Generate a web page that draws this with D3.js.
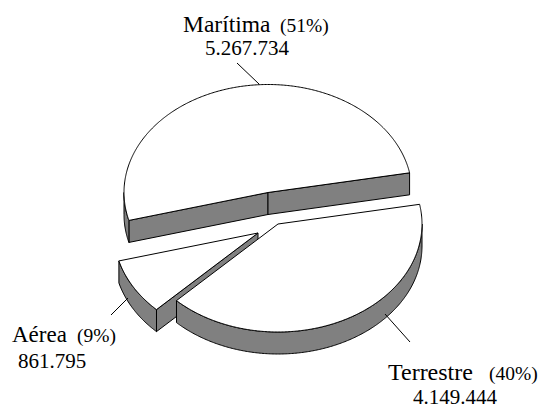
<!DOCTYPE html>
<html>
<head>
<meta charset="utf-8">
<script src="https://cdn.jsdelivr.net/npm/d3@7"></script>
<style>
html,body{margin:0;padding:0;background:#fff;overflow:hidden}
svg{display:block}
text{font-family:"Liberation Serif",serif;fill:#000}
</style>
</head>
<body>
<svg id="c" width="539" height="409"></svg>
<script>
const categories = ["Terrestre", "Aérea", "Marítima"];
const values = [4149444, 861795, 5267734];
const percents = ["(40%)", "(9%)", "(51%)"];
const valueLabels = ["4.149.444", "861.795", "5.267.734"];

// layout
const W = 539, H = 409, RX = 144, RY = 108, DEPTH = 22;
const centers = {"Marítima":[268,192.5], "Terrestre":[278,224], "Aérea":[258,233]};
const labelPos = {
  "Marítima": {name:[183,32,23.5], pct:[280,32], val:[205,55]},
  "Aérea":    {name:[12,342,23], pct:[77,342], val:[18,368]},
  "Terrestre":{name:[388,380,24], pct:[489,380], val:[413,404.4]}
};
const leaders = {
  "Marítima":[[237,63],[259,84]],
  "Aérea":[[111,315],[128,298]],
  "Terrestre":[[385,314],[410,342]]
};
const GRAY = "#808080";

const svg = d3.select("#c");
const sx = d3.scaleLinear().domain([-1,1]).range([-RX,RX]);
const sy = d3.scaleLinear().domain([-1,1]).range([-RY,RY]);
const start = 79.5*Math.PI/180;
const arcs = d3.pie().sort(null).startAngle(start).endAngle(start+2*Math.PI)(values);
const line = d3.line();

function pt(name,a,d){
  const c = centers[name];
  return [c[0]+sx(Math.sin(a)), c[1]+sy(-Math.cos(a))+d];
}
function samples(a0,a1){
  const n = Math.max(2,Math.ceil(Math.abs(a1-a0)/0.01));
  return d3.range(n+1).map(i=>a0+(a1-a0)*i/n);
}
function drawSlice(i){
  const name = categories[i], a0 = arcs[i].startAngle, a1 = arcs[i].endAngle;
  const c = centers[name];
  const g = svg.append("g").attr("stroke","#000").attr("stroke-width",1).attr("stroke-linejoin","round");
  const pi = Math.PI;
  // cut faces turned toward the viewer
  const faces = name==="Marítima" ? [a0,a1] : name==="Aérea" ? [a0] : [];
  faces.forEach(a=>{
    const p = pt(name,a,0), q = pt(name,a,DEPTH);
    g.append("path").attr("d",line([[c[0],c[1]],p,q,[c[0],c[1]+DEPTH]])+"Z").attr("fill",GRAY);
  });
  // outer wall (only the near half of the rim)
  [[a0,a1],[a0-2*pi,a1-2*pi],[a0+2*pi,a1+2*pi]].forEach(([s,e])=>{
    const lo = Math.max(s,pi/2), hi = Math.min(e,3*pi/2);
    if (hi>lo){
      const as = samples(lo,hi);
      const top = as.map(a=>pt(name,a,0));
      const bot = as.slice().reverse().map(a=>pt(name,a,DEPTH));
      g.append("path").attr("d",line(top.concat(bot))+"Z").attr("fill",GRAY);
    }
  });
  // top face
  const rim = samples(a0,a1).map(a=>pt(name,a,0));
  g.append("path").attr("d",line([c].concat(rim))+"Z").attr("fill","#fff");
}
// back to front
drawSlice(2); drawSlice(1); drawSlice(0);

categories.forEach((name,i)=>{
  svg.append("path").attr("d",line(leaders[name])).attr("stroke","#000").attr("stroke-width",1).attr("fill","none");
  const L = labelPos[name];
  svg.append("text").attr("x",L.name[0]).attr("y",L.name[1]).attr("font-size",L.name[2]).text(name);
  svg.append("text").attr("x",L.pct[0]).attr("y",L.pct[1]).attr("font-size",19.5).text(percents[i]);
  svg.append("text").attr("x",L.val[0]).attr("y",L.val[1]).attr("font-size",21).text(valueLabels[i]);
});
</script>
</body>
</html>
